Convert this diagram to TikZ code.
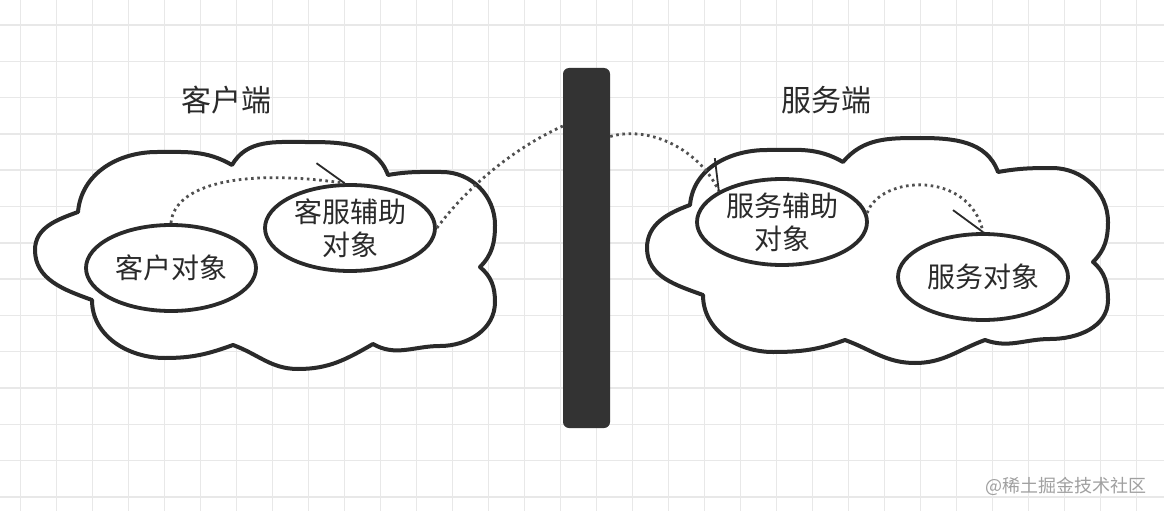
\documentclass[tikz,border=0pt]{standalone}
\usepackage{fontspec}
\newfontfamily\cjk{Noto Sans CJK SC}
\usetikzlibrary{shapes.geometric}
\definecolor{gridc}{HTML}{E8E8E8}
\definecolor{ink}{HTML}{2A2A2A}
\definecolor{barc}{HTML}{333333}
\definecolor{dotc}{HTML}{505050}
\definecolor{wmark}{HTML}{A0A0A0}
\tikzset{
  cloudline/.style={draw=ink, line width=4pt, fill=white, line join=round},
  objell/.style={ellipse, draw=ink, line width=3.8pt, fill=white, minimum width=170pt, minimum height=86pt, inner sep=0pt, align=center, font=\cjk\fontsize{28}{33}\selectfont, text=ink},
  dotline/.style={draw=dotc, line width=2.8pt, dash pattern=on 2.6pt off 3.6pt},
  tickline/.style={draw=ink, line width=1.8pt},
  title/.style={font=\cjk\fontsize{30}{36}\selectfont, text=ink}
}
\begin{document}
\begin{tikzpicture}[x=1pt,y=-1pt]
\useasboundingbox (0,0) rectangle (1164,511);
\fill[white] (0,0) rectangle (1164,511);
% grid
\foreach \i in {0,...,32} {\draw[gridc, line width=1.5pt] ({20.7+36*\i},0) -- ({20.7+36*\i},511);}
\foreach \j in {0,...,13} {\draw[gridc, line width=1.5pt] (0,{25+36.3*\j}) -- (1164,{25+36.3*\j});}
% left cloud
\draw[cloudline] (78,212) to[out=85,in=180] (157,152) to[out=0,in=150] (232,165)
  to[out=60,in=180] (305,142) to[out=0,in=110] (388,175)
  to[out=10,in=180] (442,172) to[out=0,in=90] (495,225) to[out=-90,in=45] (480,267)
  to[out=-40,in=90] (495,302) to[out=-90,in=0] (440,346) to[out=180,in=-30] (373,344)
  to[out=-150,in=0] (298,369) to[out=180,in=-20] (233,345)
  to[out=-160,in=0] (165,358) to[out=180,in=-90] (92,300)
  to[out=160,in=-90] (35,250) to[out=90,in=200] cycle;
% right cloud
\draw[cloudline] (690,205) to[out=85,in=180] (767,150) to[out=0,in=150] (843,162)
  to[out=50,in=180] (920,138) to[out=0,in=110] (998,172)
  to[out=10,in=180] (1052,168) to[out=0,in=90] (1108,222) to[out=-90,in=45] (1093,262)
  to[out=-40,in=90] (1108,300) to[out=-90,in=0] (1050,339) to[out=180,in=-20] (985,340)
  to[out=-160,in=0] (915,363) to[out=180,in=-20] (845,340)
  to[out=-160,in=0] (773,352) to[out=180,in=-90] (703,295)
  to[out=160,in=-90] (647,248) to[out=90,in=200] cycle;
% titles
\node[title] (tl) at (226,100) {客户端};
\node[title] (tr) at (826,100) {服务端};
% bar
\node[fill=barc, rounded corners=6pt, minimum width=47pt, minimum height=360pt, inner sep=0pt] (bar) at (586.5,248) {};
% ellipses
\node[objell] (c1) at (171,268) {客户对象};
\node[objell] (c2) at (350,228) {客服辅助\\对象};
\node[objell] (s1) at (782,222) {服务辅助\\对象};
\node[objell] (s2) at (983,277) {服务对象};
% connectors
\draw[dotline] (c1.north) .. controls (174,185) and (240,168) .. (c2.97);
\draw[tickline] (c2.97) -- ++(-28,-20);
\draw[dotline] (c2.east) .. controls (465,190) and (510,150) .. (bar.101.75);
\draw[dotline] (bar.78.9) .. controls (650,125) and (700,150) .. (s1.154);
\draw[tickline] (s1.154) -- ++(-4,-33);
\draw[dotline] (s1.6) .. controls (880,175) and (970,170) .. (s2.north);
\draw[tickline] (s2.north) -- ++(-30,-22);
% watermark
\node[font=\cjk\fontsize{18}{20}\selectfont, text=wmark] (wm) at (1066,486) {@稀土掘金技术社区};
\end{tikzpicture}
\end{document}
